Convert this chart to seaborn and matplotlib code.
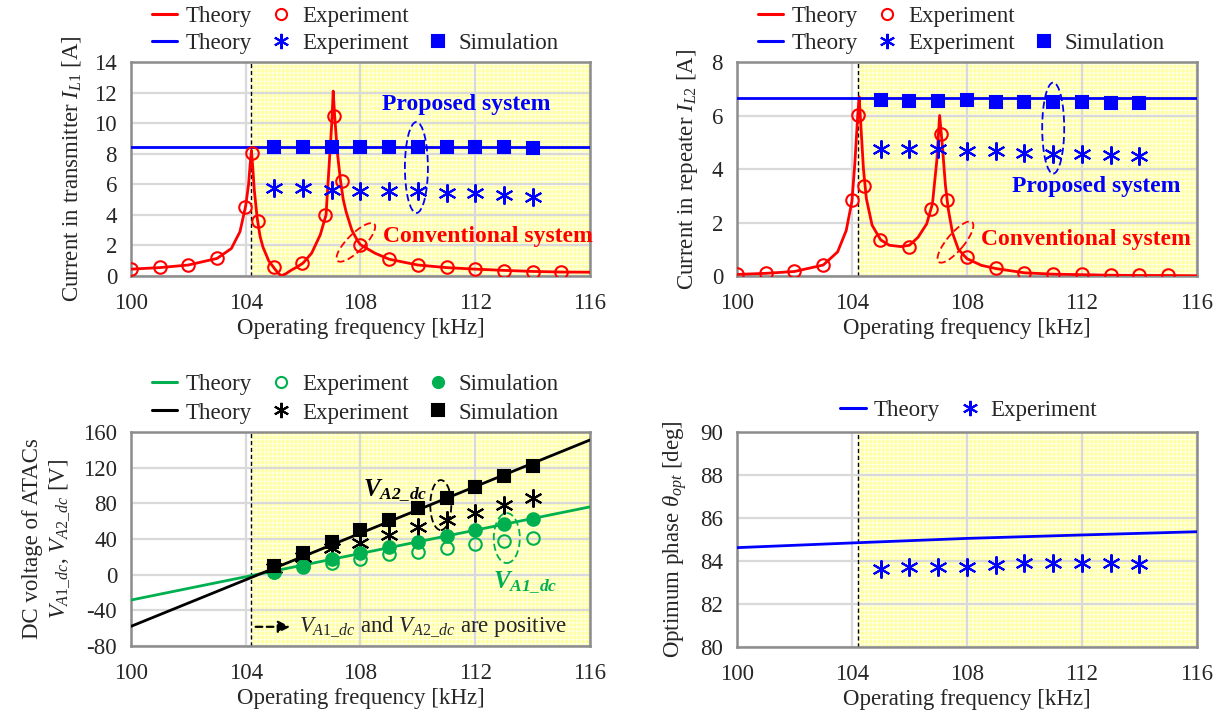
import numpy as np
import pandas as pd
import matplotlib
matplotlib.use("Agg")
import matplotlib.pyplot as plt
import seaborn as sns
from matplotlib.lines import Line2D
from matplotlib.patches import Ellipse
from matplotlib.transforms import ScaledTranslation

sns.set_style("white")
plt.rcParams['font.family'] = ['Liberation Serif', 'DejaVu Serif']
plt.rcParams['mathtext.fontset'] = 'custom'
plt.rcParams['mathtext.rm'] = 'Liberation Serif'
plt.rcParams['mathtext.it'] = 'Liberation Serif:italic'
plt.rcParams['mathtext.bf'] = 'Liberation Serif:bold'
plt.rcParams['mathtext.bfit'] = 'Liberation Serif:italic:bold'
plt.rcParams['axes.unicode_minus'] = False
plt.rcParams['hatch.linewidth'] = 0.8

FS = 16.5
RED, BLUE, GREEN, BLACK = '#FF0000', '#0000FF', '#00B050', '#000000'
STAR = (6, 2, 0)

# ---------------- data ----------------
f_sweep = [105, 106, 107, 108, 109, 110, 111, 112, 113, 114]
f_start = 104.2

# I_L1 (transmitter)
il1_conv_th_f = [100, 101, 102, 103, 103.5, 103.8, 104.0, 104.1, 104.15, 104.2, 104.25, 104.3,
                 104.4, 104.5, 104.6, 104.8, 105.0, 105.15, 105.25, 105.4, 105.6, 105.8, 106.0,
                 106.3, 106.6, 106.8, 106.92, 107.0, 107.05, 107.1, 107.2, 107.3, 107.4, 107.5,
                 107.7, 107.9, 108.0, 108.5, 109, 110, 111, 112, 113, 114, 115, 116]
il1_conv_th = [0.45, 0.55, 0.72, 1.15, 1.8, 2.9, 4.6, 6.0, 7.2, 8.2, 7.0, 5.6,
               3.8, 2.6, 1.9, 1.0, 0.5, 0.15, 0.02, 0.15, 0.4, 0.6, 0.85,
               1.5, 2.7, 4.0, 7.6, 10.0, 12.1, 10.5, 8.0, 6.3, 5.0, 4.2,
               3.0, 2.3, 2.05, 1.5, 1.1, 0.72, 0.55, 0.45, 0.37, 0.3, 0.26, 0.25]
il1_conv_exp_f = [100, 101, 102, 103, 103.96, 104.23, 104.42, 105, 105.96, 106.77, 107.07, 107.34,
                  108, 109, 110, 111, 112, 113, 114, 115]
il1_conv_exp = [0.44, 0.57, 0.72, 1.2, 4.5, 8.05, 3.6, 0.57, 0.83, 3.98, 10.45, 6.23,
                2.02, 1.09, 0.72, 0.57, 0.44, 0.35, 0.28, 0.24]
il1_prop_th = 8.42
il1_prop_exp = [5.73, 5.73, 5.62, 5.55, 5.55, 5.55, 5.46, 5.40, 5.29, 5.18]
il1_prop_sim = [8.45, 8.45, 8.45, 8.43, 8.43, 8.43, 8.43, 8.42, 8.42, 8.40]

# I_L2 (repeater)
il2_conv_th_f = [100, 101, 102, 103, 103.5, 103.8, 104.0, 104.1, 104.2, 104.25, 104.3, 104.4,
                 104.5, 104.7, 105.0, 105.3, 105.7, 106.0, 106.3, 106.6, 106.8, 106.95, 107.05,
                 107.15, 107.25, 107.35, 107.5, 107.7, 108.0, 108.5, 109, 110, 111, 112, 113,
                 114, 115, 116]
il2_conv_th = [0.06, 0.1, 0.17, 0.41, 0.9, 1.7, 2.8, 4.2, 6.0, 6.7, 5.8, 4.0,
               2.9, 1.9, 1.35, 1.15, 1.1, 1.15, 1.45, 1.95, 2.7, 4.3, 6.0,
               4.8, 3.4, 2.5, 1.6, 1.0, 0.65, 0.4, 0.28, 0.12, 0.07, 0.05, 0.03,
               0.02, 0.02, 0.01]
il2_conv_exp_f = [100, 101, 102, 103, 103.99, 104.2, 104.43, 104.98, 105.98, 106.76, 107.1, 107.31,
                  108, 109, 110, 111, 112, 113, 114, 115]
il2_conv_exp = [0.06, 0.1, 0.17, 0.41, 2.84, 6.03, 3.37, 1.34, 1.09, 2.5, 5.3, 2.84,
                0.7, 0.29, 0.12, 0.07, 0.06, 0.02, 0.02, 0.02]
il2_prop_th = 6.65
il2_prop_exp = [4.76, 4.76, 4.74, 4.66, 4.66, 4.61, 4.58, 4.58, 4.51, 4.49]
il2_prop_sim = [6.57, 6.54, 6.54, 6.57, 6.50, 6.50, 6.50, 6.50, 6.48, 6.48]

# DC voltages
vdc_th_f = [100, 116]
va1_th = [-28.5, 76]
va2_th = [-58, 151]
va1_exp = [2.5, 8.8, 12.6, 17.0, 22.7, 25.6, 30.1, 33.9, 37.6, 40.6]
va1_sim = [3.2, 9.6, 17.4, 24.5, 31.2, 36.8, 43.6, 49.9, 56.3, 61.9]
va2_exp = [7.0, 20.0, 29.4, 35.0, 45.0, 53.6, 61.0, 69.3, 78.0, 85.4]
va2_sim = [9.6, 23.8, 36.8, 49.9, 61.1, 74.2, 86.5, 98.4, 110.4, 121.9]

# optimum phase
th_f = [100, 104.2, 108, 112, 116]
th_th = [84.62, 84.85, 85.05, 85.21, 85.36]
th_exp = [83.63, 83.74, 83.74, 83.74, 83.82, 83.90, 83.90, 83.90, 83.90, 83.87]

# ---------------- figure ----------------
fig = plt.figure(figsize=(12.25, 7.22), dpi=100)
ax_tl = fig.add_axes([0.1069, 0.6177, 0.3747, 0.2964])
ax_tr = fig.add_axes([0.6016, 0.6177, 0.3755, 0.2964])
ax_bl = fig.add_axes([0.1069, 0.1053, 0.3747, 0.2964])
ax_br = fig.add_axes([0.6016, 0.1039, 0.3755, 0.2978])


def style_axes(ax, ylim, yticks, ylabel):
    ax.set_xlim(100, 116)
    ax.set_ylim(*ylim)
    ax.set_xticks([100, 104, 108, 112, 116])
    ax.set_yticks(yticks)
    ax.tick_params(labelsize=FS, length=0)
    ax.tick_params(axis='x', pad=12)
    ax.tick_params(axis='y', pad=10)
    ax.set_axisbelow(True)
    ax.grid(True, color='#D9D9D9', lw=1.6)
    for sp in ax.spines.values():
        sp.set_color('#8C8C8C')
        sp.set_linewidth(1.8)
    ax.axvspan(f_start, 116, facecolor='#FFFFA0', edgecolor='#FFFFE6', hatch='++++',
               lw=0, zorder=0.1)
    ax.axvline(f_start, color='black', ls=(0, (3, 2)), lw=1.0, zorder=1.5)
    ax.set_xlabel('Operating frequency [kHz]', fontsize=FS, labelpad=3)
    ax.set_ylabel(ylabel, fontsize=FS, labelpad=8)


def line(ax, x, y, color, lw=2.0):
    sns.lineplot(x=x, y=y, ax=ax, color=color, lw=lw, estimator=None, sort=False, zorder=3)


def pts(ax, x, y, color, marker, ms, filled, mew=1.5):
    sns.lineplot(x=x, y=y, ax=ax, estimator=None, sort=False, linestyle='', marker=marker,
                 markersize=ms, markeredgewidth=mew, color=color,
                 markerfacecolor=color if filled else 'none', markeredgecolor=color, zorder=4)


def ellipse(ax, x, y, w, h, angle, color):
    trans = fig.dpi_scale_trans + ScaledTranslation(x, y, ax.transData)
    ax.add_patch(Ellipse((0, 0), w / 100, h / 100, angle=angle, transform=trans, fill=False,
                         edgecolor=color, ls=(0, (4, 2)), lw=1.3, zorder=5))


def h(color, marker=None, filled=True):
    if marker is None:
        return Line2D([], [], color=color, lw=2.2)
    return Line2D([], [], color=color, ls='', marker=marker, markersize=8 if marker != STAR else 11,
                  markeredgewidth=1.5, markerfacecolor=color if filled else 'none',
                  markeredgecolor=color)


def legend_row(x, y, handles, labels):
    fig.legend(handles, labels, loc='center left', bbox_to_anchor=(x, y), ncol=len(labels),
               frameon=False, fontsize=FS, handlelength=1.1, handletextpad=0.35,
               columnspacing=0.75, borderpad=0, borderaxespad=0)


# ---- top-left ----
style_axes(ax_tl, (0, 14), range(0, 15, 2), r'Current in transmitter $I_{L1}$ [A]')
line(ax_tl, il1_conv_th_f, il1_conv_th, RED)
line(ax_tl, [100, 116], [il1_prop_th, il1_prop_th], BLUE)
pts(ax_tl, il1_conv_exp_f, il1_conv_exp, RED, 'o', 9, False)
pts(ax_tl, f_sweep, il1_prop_exp, BLUE, STAR, 13, False)
pts(ax_tl, f_sweep, il1_prop_sim, BLUE, 's', 9, True)
ax_tl.text(111.7, 11.2, 'Proposed system', color=BLUE, fontsize=17, fontweight='bold',
           ha='center', va='center', zorder=6)
ax_tl.text(112.45, 2.6, 'Conventional system', color=RED, fontsize=17, fontweight='bold',
           ha='center', va='center', zorder=6)
ellipse(ax_tl, 109.95, 7.1, 23, 91, 0, BLUE)
ellipse(ax_tl, 107.84, 2.2, 52, 17, 45, RED)

# ---- top-right ----
style_axes(ax_tr, (0, 8), range(0, 9, 2), r'Current in repeater $I_{L2}$ [A]')
line(ax_tr, il2_conv_th_f, il2_conv_th, RED)
line(ax_tr, [100, 116], [il2_prop_th, il2_prop_th], BLUE)
pts(ax_tr, il2_conv_exp_f, il2_conv_exp, RED, 'o', 9, False)
pts(ax_tr, f_sweep, il2_prop_exp, BLUE, STAR, 13, False)
pts(ax_tr, f_sweep, il2_prop_sim, BLUE, 's', 9, True)
ax_tr.text(112.5, 3.33, 'Proposed system', color=BLUE, fontsize=17, fontweight='bold',
           ha='center', va='center', zorder=6)
ax_tr.text(112.15, 1.35, 'Conventional system', color=RED, fontsize=17, fontweight='bold',
           ha='center', va='center', zorder=6)
ellipse(ax_tr, 111.0, 5.53, 22, 91, 0, BLUE)
ellipse(ax_tr, 107.6, 1.27, 52, 17, 50, RED)

# ---- bottom-left ----
style_axes(ax_bl, (-80, 160), range(-80, 161, 40),
           'DC voltage of ATACs\n' + r'$V_{A1\_dc}$, $V_{A2\_dc}$ [V]')
line(ax_bl, vdc_th_f, va1_th, GREEN)
line(ax_bl, vdc_th_f, va2_th, BLACK)
pts(ax_bl, f_sweep, va1_exp, GREEN, 'o', 9, False)
pts(ax_bl, f_sweep, va2_exp, BLACK, STAR, 13, False)
pts(ax_bl, f_sweep, va1_sim, GREEN, 'o', 9, True)
pts(ax_bl, f_sweep, va2_sim, BLACK, 's', 9, True)
ax_bl.text(109.2, 95, r'$\mathbfit{V}_{\mathbfit{A2\_dc}}$', color=BLACK, fontsize=18,
           ha='center', va='center', zorder=6)
ax_bl.text(113.75, -8, r'$\mathbfit{V}_{\mathbfit{A1\_dc}}$', color=GREEN, fontsize=18,
           ha='center', va='center', zorder=6)
ellipse(ax_bl, 110.8, 78, 21, 50, 0, BLACK)
ellipse(ax_bl, 113.1, 41, 26, 50, 0, GREEN)
ax_bl.annotate('', xy=(105.65, -58.5), xytext=(104.25, -58.5),
               arrowprops=dict(arrowstyle='-|>', color='black', lw=1.6, ls=(0, (3, 2)),
                               mutation_scale=18), zorder=6)
ax_bl.text(105.85, -58.5, r'$V_{A1\_dc}$ and $V_{A2\_dc}$ are positive', fontsize=FS,
           ha='left', va='center', zorder=6)

# ---- bottom-right ----
style_axes(ax_br, (80, 90), range(80, 91, 2), r'Optimum phase $\theta_{opt}$ [deg]')
line(ax_br, th_f, th_th, BLUE)
pts(ax_br, f_sweep, th_exp, BLUE, STAR, 13, False)

# ---- legends ----
legend_row(0.1241, 0.9765, [h(RED), h(RED, 'o', False)], ['Theory', 'Experiment'])
legend_row(0.1241, 0.9404, [h(BLUE), h(BLUE, STAR), h(BLUE, 's')],
           ['Theory', 'Experiment', 'Simulation'])
legend_row(0.6188, 0.9765, [h(RED), h(RED, 'o', False)], ['Theory', 'Experiment'])
legend_row(0.6188, 0.9404, [h(BLUE), h(BLUE, STAR), h(BLUE, 's')],
           ['Theory', 'Experiment', 'Simulation'])
legend_row(0.1241, 0.4668, [h(GREEN), h(GREEN, 'o', False), h(GREEN, 'o')],
           ['Theory', 'Experiment', 'Simulation'])
legend_row(0.1241, 0.4280, [h(BLACK), h(BLACK, STAR), h(BLACK, 's')],
           ['Theory', 'Experiment', 'Simulation'])
legend_row(0.686, 0.4321, [h(BLUE), h(BLUE, STAR)], ['Theory', 'Experiment'])

for ax in (ax_tl, ax_tr, ax_bl, ax_br):
    if ax.get_legend() is not None:
        ax.get_legend().remove()

fig.savefig('out.png', dpi=100)
